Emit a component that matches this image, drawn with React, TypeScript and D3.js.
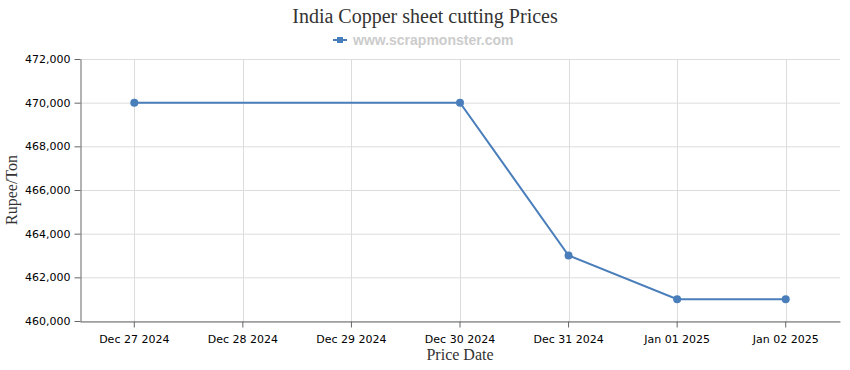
import React, { useEffect, useRef } from "react";
import * as d3 from "d3";

const dates = [
  "Dec 27 2024",
  "Dec 28 2024",
  "Dec 29 2024",
  "Dec 30 2024",
  "Dec 31 2024",
  "Jan 01 2025",
  "Jan 02 2025",
];
// null = no price reported that day
const prices: (number | null)[] = [470000, null, null, 470000, 463000, 461000, 461000];
const yTicks = [460000, 462000, 464000, 466000, 468000, 470000, 472000];

const width = 850;
const height = 370;
const margin = { top: 59, right: 10, bottom: 49, left: 80 };
const lineColor = "#4a7ebb";

export default function App() {
  const ref = useRef<SVGSVGElement>(null);

  useEffect(() => {
    document.body.style.margin = "0";
    const svg = d3.select(ref.current);
    svg.selectAll("*").remove();

    const innerW = width - margin.left - margin.right;
    const innerH = height - margin.top - margin.bottom;

    const x = d3.scaleBand().domain(dates).range([0, innerW]);
    const y = d3.scaleLinear().domain([460000, 472000]).range([innerH, 0]);
    const cx = (d: string) => (x(d) as number) + x.bandwidth() / 2;

    const g = svg
      .append("g")
      .attr("transform", `translate(${margin.left},${margin.top})`);

    // grid
    g.append("g")
      .selectAll("line")
      .data(yTicks)
      .join("line")
      .attr("x1", 0)
      .attr("x2", innerW)
      .attr("y1", (d) => y(d) + 0.5)
      .attr("y2", (d) => y(d) + 0.5)
      .attr("stroke", "#dcdcdc");
    g.append("g")
      .selectAll("line")
      .data(dates)
      .join("line")
      .attr("x1", (d) => Math.round(cx(d)) + 0.5)
      .attr("x2", (d) => Math.round(cx(d)) + 0.5)
      .attr("y1", 0)
      .attr("y2", innerH)
      .attr("stroke", "#dcdcdc");

    // axes
    const xAxis = g
      .append("g")
      .attr("transform", `translate(0,${innerH + 0.5})`)
      .call(d3.axisBottom(x).tickSize(6).tickSizeOuter(0));
    const yAxis = g
      .append("g")
      .attr("transform", `translate(0.5,0)`)
      .call(
        d3
          .axisLeft(y)
          .tickValues(yTicks)
          .tickFormat(d3.format(","))
          .tickSize(6)
          .tickSizeOuter(0)
      );
    [xAxis, yAxis].forEach((a) => {
      a.select(".domain").attr("stroke", "#666");
      a.selectAll(".tick line").attr("stroke", "#666");
      a.selectAll(".tick text")
        .attr("fill", "#000")
        .style("font-family", "DejaVu Sans, Verdana, sans-serif")
        .style("font-size", "11px");
    });
    xAxis.selectAll(".tick text").attr("dy", "1.1em");
    yAxis.selectAll(".tick text").attr("x", -10);

    // line + markers
    const pts = dates
      .map((d, i) => ({ d, v: prices[i] }))
      .filter((p) => p.v !== null) as { d: string; v: number }[];

    g.append("path")
      .datum(pts)
      .attr("fill", "none")
      .attr("stroke", lineColor)
      .attr("stroke-width", 2)
      .attr(
        "d",
        d3
          .line<{ d: string; v: number }>()
          .x((p) => cx(p.d))
          .y((p) => y(p.v))
      );
    g.append("g")
      .selectAll("circle")
      .data(pts)
      .join("circle")
      .attr("cx", (p) => cx(p.d))
      .attr("cy", (p) => y(p.v))
      .attr("r", 4)
      .attr("fill", lineColor);

    // titles
    svg
      .append("text")
      .attr("x", width / 2)
      .attr("y", 23)
      .attr("text-anchor", "middle")
      .style("font-family", "Liberation Serif, Times New Roman, serif")
      .style("font-size", "20px")
      .attr("fill", "#333")
      .text("India Copper sheet cutting Prices");

    const leg = svg.append("g").attr("transform", `translate(333,40)`);
    leg
      .append("line")
      .attr("x1", 0)
      .attr("x2", 14)
      .attr("y1", 0)
      .attr("y2", 0)
      .attr("stroke", lineColor)
      .attr("stroke-width", 2);
    leg
      .append("rect")
      .attr("x", 4)
      .attr("y", -3)
      .attr("width", 6)
      .attr("height", 6)
      .attr("fill", lineColor);
    leg
      .append("text")
      .attr("x", 20)
      .attr("y", 5)
      .style("font-family", "Liberation Sans, Arial, sans-serif")
      .style("font-size", "14px")
      .style("font-weight", "bold")
      .attr("fill", "#ccc")
      .text("www.scrapmonster.com");

    svg
      .append("text")
      .attr("x", margin.left + innerW / 2)
      .attr("y", 360)
      .attr("text-anchor", "middle")
      .style("font-family", "Liberation Serif, Times New Roman, serif")
      .style("font-size", "16px")
      .attr("fill", "#333")
      .text("Price Date");

    svg
      .append("text")
      .attr("transform", `translate(17,${margin.top + innerH / 2}) rotate(-90)`)
      .attr("text-anchor", "middle")
      .style("font-family", "Liberation Serif, Times New Roman, serif")
      .style("font-size", "16px")
      .attr("fill", "#333")
      .text("Rupee/Ton");
  }, []);

  return (
    <svg
      ref={ref}
      width={width}
      height={height}
      style={{ display: "block" }}
    />
  );
}
